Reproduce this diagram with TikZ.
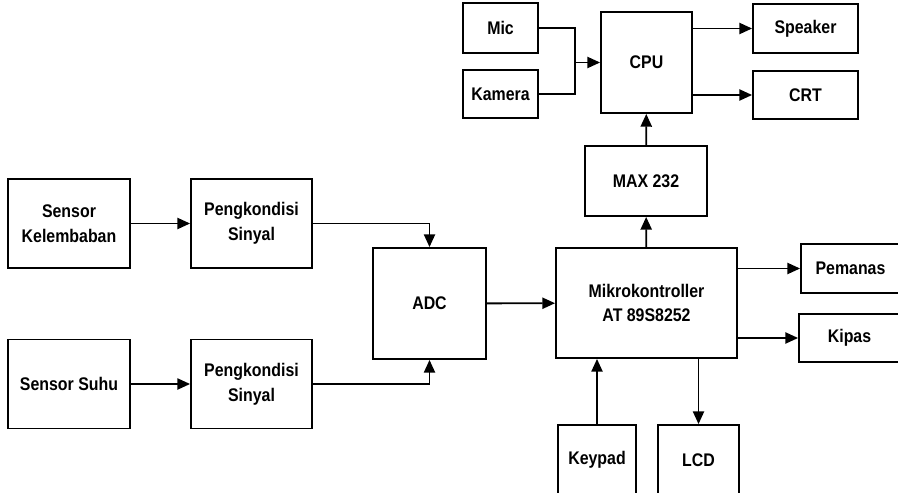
\documentclass[tikz,border=0pt]{standalone}
\usepackage{fontspec}
\setmainfont{Liberation Sans}[FakeStretch=0.87]
\usepackage{tikz}
\usetikzlibrary{arrows.meta,positioning}

\begin{document}
\begin{tikzpicture}[x=0.025cm, y=-0.025cm,
  every node/.style={font=\fontsize{13}{17.5}\selectfont\bfseries},
  box/.style={draw, line width=1.3pt, align=center, inner sep=2pt},
  line/.style={line width=1.3pt},
  arr/.style={line, -{Triangle[length=3.2mm, width=2.8mm]}}]
  \useasboundingbox (0,0) rectangle (898,492);
  % sensors and signal conditioning
  \node[box, minimum width=3.05cm, minimum height=2.225cm] (sk) at (69,223.5) {Sensor\\Kelembaban};
  \node[box, minimum width=3.025cm, minimum height=2.225cm] (pk1) at (251.5,223.5) {Pengkondisi\\Sinyal};
  \node[box, minimum width=3.05cm, minimum height=2.225cm] (ss) at (69,384) {Sensor Suhu};
  \node[box, minimum width=3.025cm, minimum height=2.225cm] (pk2) at (251.5,384) {Pengkondisi\\Sinyal};
  \node[box, minimum width=2.825cm, minimum height=2.775cm] (adc) at (429.5,303.5) {ADC};
  % controller and outputs
  \node[box, minimum width=4.525cm, minimum height=2.75cm] (mk) at (646.5,303) {Mikrokontroller\\AT 89S8252};
  \node[box, minimum width=2.475cm, minimum height=1.225cm] (pem) at (850.5,268.5) {Pemanas};
  \node[box, minimum width=2.525cm, minimum height=1.2cm] (kip) at (849.5,338) {Kipas};
  \node[box, minimum width=1.95cm, minimum height=1.75cm] (key) at (597,460) {Keypad};
  \node[box, minimum width=2.025cm, minimum height=1.75cm] (lcd) at (698.5,460) {LCD};
  % PC side
  \node[box, minimum width=3.05cm, minimum height=1.75cm] (max) at (646,181) {MAX 232};
  \node[box, minimum width=2.275cm, minimum height=2.525cm] (cpu) at (646.5,62.5) {CPU};
  \node[box, minimum width=1.875cm, minimum height=1.25cm] (mic) at (500.5,28) {Mic};
  \node[box, minimum width=1.875cm, minimum height=1.2cm] (kam) at (500.5,94) {Kamera};
  \node[box, minimum width=2.625cm, minimum height=1.225cm] (spk) at (805.5,28.5) {Speaker};
  \node[box, minimum width=2.625cm, minimum height=1.2cm] (crt) at (805.5,95) {CRT};
  \coordinate (j) at (575,62.5);

  \draw[arr] (sk) -- (pk1);
  \draw[arr] (ss) -- (pk2);
  \draw[arr] (pk1.east) -| (adc.north);
  \draw[arr] (pk2.east) -| (adc.south);
  \draw[arr] (adc) -- (mk);
  \draw[arr] (mk) -- (max);
  \draw[arr] (max) -- (cpu);
  \draw[line] (mic) -| (j);
  \draw[line] (kam) -| (j);
  \draw[arr] (j) -- (cpu);
  \draw[arr] (cpu.east |- spk) -- (spk);
  \draw[arr] (cpu.east |- crt) -- (crt);
  \draw[arr] (mk.east |- pem) -- (pem);
  \draw[arr] (mk.east |- kip) -- (kip);
  \draw[arr] (key) -- (key |- mk.south);
  \draw[arr] (lcd |- mk.south) -- (lcd);
\end{tikzpicture}
\end{document}
